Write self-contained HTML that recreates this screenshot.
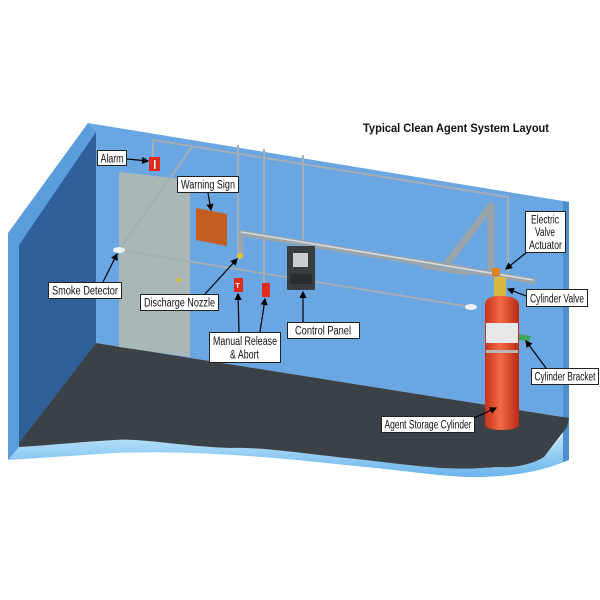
<!DOCTYPE html>
<html><head><meta charset="utf-8"><style>
html,body{margin:0;padding:0;background:#fff;}
svg{display:block;}
text{font-family:"Liberation Sans",sans-serif;font-size:11.5px;fill:#111;}
</style></head><body>
<svg width="600" height="600" viewBox="0 0 600 600" xmlns="http://www.w3.org/2000/svg">
<defs>
<linearGradient id="cyl" x1="0" x2="1"><stop offset="0" stop-color="#c8321c"/><stop offset="0.45" stop-color="#f26a45"/><stop offset="1" stop-color="#b82a15"/></linearGradient>
<linearGradient id="strip" x1="0" x2="0" y1="0" y2="1"><stop offset="0" stop-color="#c8ecfd"/><stop offset="1" stop-color="#6ab4ec"/></linearGradient>
<marker id="ar" markerWidth="6" markerHeight="6" refX="5" refY="3" orient="auto"><path d="M0,0 L6,3 L0,6 z" fill="#000"/></marker>
</defs>
<path d="M8,447 L8,460 L115,453 C200,450 280,458 345,465 C400,470 450,478 479,477 C520,476 545,470 569,460 L569,427 L544,457 C530,466 510,468 498,467 C470,469 460,469 440,468 C400,465 370,460 345,458 C300,453 260,447 230,448 C180,446 140,438 115,440 C80,442 40,446 19,447 Z" fill="url(#strip)"/>
<path d="M8,233 L88,123 L96,130 L96,343 L19,447 L8,460 Z" fill="#5a9ddb"/>
<path d="M19,245 L96,132 L96,343 L19,443 Z" fill="#2f609a"/>
<path d="M88,123 L569,202 L569,418 L96,343 L96,130 Z" fill="#6aa6e2"/>
<path d="M563,201 L569,202 L569,460 L563,462 Z" fill="#4f8fd0"/>
<path d="M19,443 L96,343 L569,418 L567,427 L544,457 C530,466 510,468 498,467 C470,469 460,469 440,468 C400,465 370,460 345,458 C300,453 260,447 230,448 C180,446 140,438 115,440 C80,442 40,446 19,447 Z" fill="#3b4247"/>
<polygon points="119,172 190,180 190,357 119,347" fill="#a9b7b6"/>
<circle cx="179" cy="280" r="2.5" fill="#d9c23a"/>
<text x="363" y="132" textLength="186" lengthAdjust="spacingAndGlyphs" style="font-size:12px;font-weight:bold">Typical Clean Agent System Layout</text>
<g stroke="#a4aeb6" stroke-width="2" fill="none">
<polyline points="153,160 153,140 508,197 508,272"/>
<line x1="192" y1="147" x2="119" y2="250"/>
<line x1="238" y1="145" x2="238" y2="255"/>
<line x1="264" y1="149" x2="264" y2="285"/>
<line x1="303" y1="155" x2="303" y2="248"/>
<line x1="119" y1="250" x2="471" y2="307"/>
</g>
<g stroke="#9aa4ab" stroke-linecap="round" fill="none">
<line x1="241" y1="233" x2="533" y2="281" stroke-width="6"/>
<line x1="241" y1="233" x2="241" y2="255" stroke-width="5"/>
<line x1="448" y1="262" x2="491" y2="206" stroke-width="7"/>
<line x1="491" y1="206" x2="491" y2="272" stroke-width="7"/>
<line x1="425" y1="264" x2="467" y2="271" stroke-width="9"/>
</g>
<line x1="241" y1="232" x2="533" y2="280" stroke="#d6dde2" stroke-width="1.5"/>
<ellipse cx="119" cy="250" rx="6" ry="3" fill="#eef2f4"/>
<ellipse cx="471" cy="307" rx="6" ry="3" fill="#eef2f4"/>
<circle cx="240" cy="256" r="3" fill="#e2c53a"/>
<rect x="149" y="157" width="11" height="14" fill="#e02a1c"/>
<rect x="154" y="160" width="1.5" height="9" fill="#fff"/>
<polygon points="196,208 227,214 227,246 196,240" fill="#c45e20"/>
<rect x="234" y="278" width="9" height="14" fill="#e02a1c"/>
<text x="235.5" y="288" style="font-size:7px;fill:#fff;font-weight:bold">T</text>
<rect x="262" y="283" width="8" height="14" fill="#e02a1c"/>
<rect x="287" y="246" width="28" height="44" fill="#3a3d40" rx="1"/>
<rect x="293" y="253" width="15" height="14" fill="#c9ced2"/>
<rect x="290" y="274" width="22" height="10" fill="#2a2c2e"/>
<rect x="494" y="277" width="12" height="22" fill="#d8b640"/>
<rect x="492" y="268" width="8" height="8" fill="#e07f20"/>
<path d="M485,305 Q485,296 500,296 Q519,296 519,305 L519,424 Q519,430 502,430 Q485,430 485,424 Z" fill="url(#cyl)"/>
<rect x="486" y="323" width="32" height="20" fill="#e8e8e8"/>
<rect x="486" y="350" width="32" height="3" fill="#b8b8b8"/>
<polygon points="519,334 531,336 529,341 519,340" fill="#3aa85a"/>
<g fill="#fff" stroke="#222" stroke-width="1">
<rect x="97.5" y="150.5" width="29" height="15"/>
<rect x="177.5" y="176.5" width="61" height="16"/>
<rect x="48.5" y="282.5" width="73" height="16"/>
<rect x="140.5" y="294.5" width="78" height="16"/>
<rect x="209.5" y="332.5" width="71" height="30"/>
<rect x="287.5" y="322.5" width="72" height="16"/>
<rect x="525.5" y="211.5" width="40" height="41"/>
<rect x="526.5" y="289.5" width="61" height="17"/>
<rect x="531.5" y="368.5" width="67" height="16"/>
<rect x="381.5" y="416.5" width="93" height="16"/>
</g>
<g stroke="#000" stroke-width="1.2" marker-end="url(#ar)">
<line x1="127" y1="159" x2="148" y2="161"/>
<line x1="208" y1="193" x2="211" y2="210"/>
<line x1="103" y1="282" x2="117" y2="254"/>
<line x1="205" y1="294" x2="237" y2="259"/>
<line x1="239" y1="332" x2="238" y2="294"/>
<line x1="260" y1="332" x2="265" y2="299"/>
<line x1="303" y1="322" x2="303" y2="292"/>
<line x1="527" y1="252" x2="506" y2="269"/>
<line x1="526" y1="296" x2="508" y2="289"/>
<line x1="546" y1="368" x2="526" y2="341"/>
<line x1="474" y1="418" x2="496" y2="408"/>
</g>
<text x="100.5" y="162.5" textLength="23" lengthAdjust="spacingAndGlyphs">Alarm</text>
<text x="181" y="188.5" textLength="54" lengthAdjust="spacingAndGlyphs">Warning Sign</text>
<text x="52" y="294.5" textLength="66" lengthAdjust="spacingAndGlyphs">Smoke Detector</text>
<text x="144" y="306.5" textLength="71" lengthAdjust="spacingAndGlyphs">Discharge Nozzle</text>
<text x="213" y="345" textLength="64" lengthAdjust="spacingAndGlyphs">Manual Release</text>
<text x="230" y="358.5" textLength="29" lengthAdjust="spacingAndGlyphs">&amp; Abort</text>
<text x="295" y="334.5" textLength="56" lengthAdjust="spacingAndGlyphs">Control Panel</text>
<text x="531" y="223.5" textLength="28" lengthAdjust="spacingAndGlyphs">Electric</text>
<text x="535" y="236" textLength="20" lengthAdjust="spacingAndGlyphs">Valve</text>
<text x="529" y="249" textLength="33" lengthAdjust="spacingAndGlyphs">Actuator</text>
<text x="530" y="302.5" textLength="54" lengthAdjust="spacingAndGlyphs">Cylinder Valve</text>
<text x="534.5" y="380.5" textLength="61" lengthAdjust="spacingAndGlyphs">Cylinder Bracket</text>
<text x="384.5" y="428.5" textLength="87" lengthAdjust="spacingAndGlyphs">Agent Storage Cylinder</text>
</svg>
</body></html>
